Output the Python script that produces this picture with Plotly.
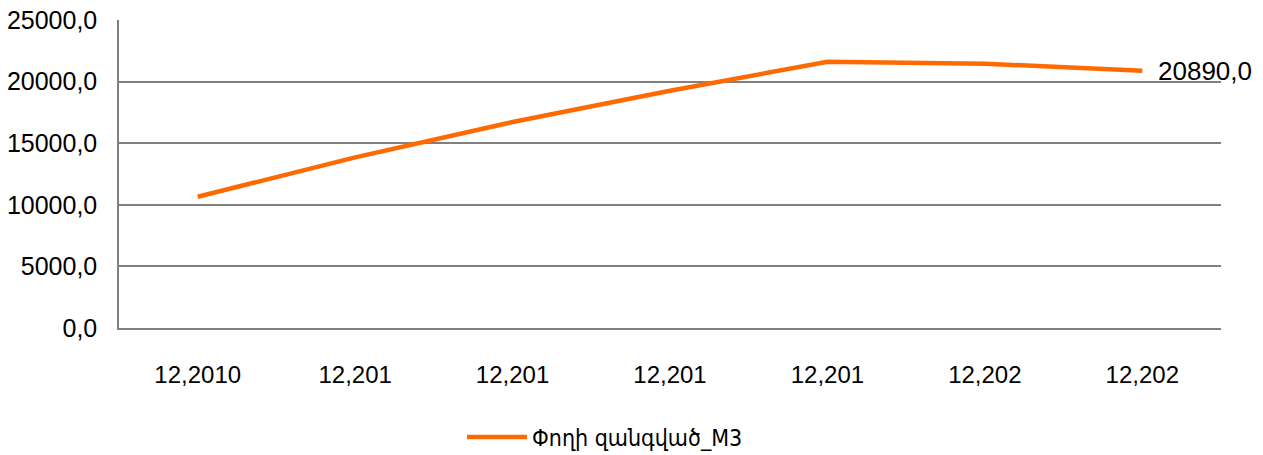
import plotly.graph_objects as go

# Category labels along the x axis (as printed, some repeat)
periods = ["12,2010", "12,201", "12,201", "12,201", "12,201", "12,202", "12,202"]
# Money supply M3
m3_values = [10650.0, 13850.0, 16720.0, 19260.0, 21610.0, 21450.0, 20890.0]
series_name = "Փողի զանգված_M3"
y_ticks = [0, 5000, 10000, 15000, 20000, 25000]
y_tick_labels = ["0,0", "5000,0", "10000,0", "15000,0", "20000,0", "25000,0"]

positions = list(range(len(periods)))
last_label = f"{m3_values[-1]:.1f}".replace(".", ",")

font_family = "Liberation Sans, Arial, sans-serif"

fig = go.Figure()
fig.add_trace(go.Scatter(
    x=positions,
    y=m3_values,
    mode="lines",
    name=series_name,
    line=dict(color="#FF6A00", width=4.5),
    cliponaxis=False,
))

# value label next to the last point
fig.add_annotation(
    x=positions[-1], y=m3_values[-1],
    text=last_label,
    showarrow=False,
    xanchor="left", yanchor="middle",
    xshift=14,
    font=dict(size=26, color="#000000", family=font_family),
)

fig.update_layout(
    width=1263,
    height=455,
    margin=dict(l=119, r=42, t=20, b=127, autoexpand=False),
    paper_bgcolor="white",
    plot_bgcolor="white",
    font=dict(family=font_family, size=25, color="#000000"),
    showlegend=True,
    legend=dict(
        orientation="h",
        x=0.441, xanchor="center",
        yref="container",
        y=1 - 437 / 455, yanchor="middle",
        font=dict(size=23, family="DejaVu Sans Condensed, DejaVu Sans, sans-serif"),
        itemwidth=60,
    ),
)

fig.update_xaxes(
    range=[-0.5, len(periods) - 0.5],
    tickvals=positions,
    ticktext=periods,
    showgrid=False,
    zeroline=False,
    showline=True,
    linecolor="#808080",
    linewidth=1.5,
    ticks="",
    ticklabelstandoff=24,
    tickfont=dict(size=24),
    automargin=False,
)

fig.update_yaxes(
    range=[0, 25000],
    tickvals=y_ticks,
    ticktext=y_tick_labels,
    showgrid=True,
    gridcolor="#808080",
    gridwidth=1.5,
    zeroline=False,
    showline=True,
    linecolor="#808080",
    linewidth=1.5,
    ticks="",
    ticklabelstandoff=15,
    tickfont=dict(size=25),
    automargin=False,
)

fig.write_html("out.html")
